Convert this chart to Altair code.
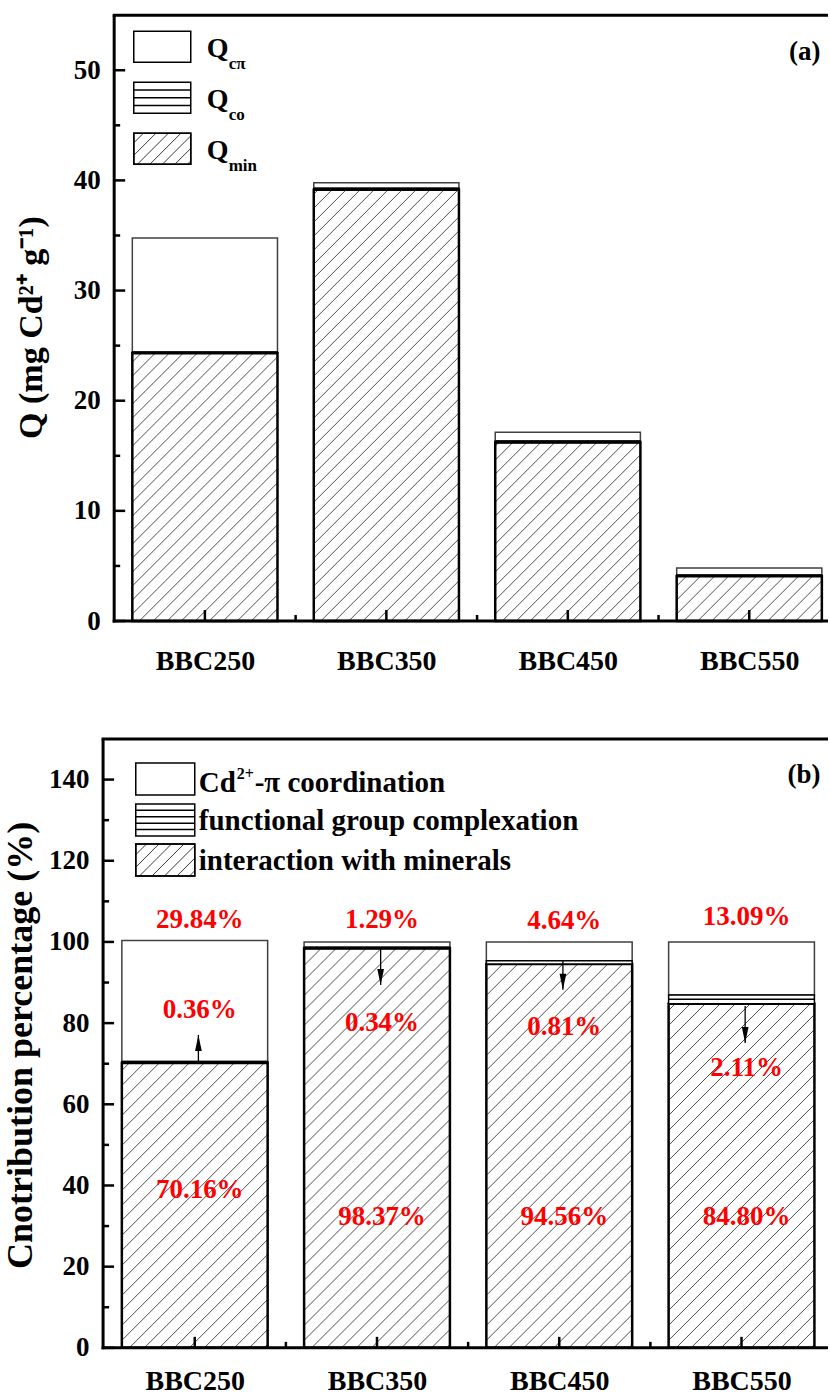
import altair as alt
import pandas as pd
import numpy as np

# ---------------- data ----------------
cats = ["BBC250", "BBC350", "BBC450", "BBC550"]
# panel (a): amounts (mg Cd2+ / g)
q_min = [24.30, 39.15, 16.20, 4.07]
q_co = [0.13, 0.14, 0.14, 0.10]
q_cpi = [10.33, 0.50, 0.80, 0.64]
# panel (b): contribution percentages
p_min = [70.16, 98.37, 94.56, 84.80]
p_co = [0.36, 0.34, 0.81, 2.11]
p_cpi = [29.84, 1.29, 4.64, 13.09]

a_yticks = [0, 10, 20, 30, 40, 50]
a_yminor = [5, 15, 25, 35, 45]
b_yticks = [0, 20, 40, 60, 80, 100, 120, 140]
b_yminor = [10, 30, 50, 70, 90, 110, 130]

# annotation placement in panel (b) (percent units)
b_top_label_y = [105.4, 105.4, 105.2, 106.2]
b_mid_label_y = [83.3, 80.0, 79.1, 69.0]
b_low_label_y = [38.9, 32.3, 32.3, 32.3]
b_arrow_from = [70.5, 98.7, 95.4, 84.2]
b_arrow_to = [77.1, 89.4, 88.2, 75.1]

# ---------------- layout / style ----------------
FONT = "Liberation Serif"
W = 714
HALF = 0.4
ONE = pd.DataFrame({"k": [0]})


def hatch(rects, S, m=1.0, phase=0.5):
    """rects in pixel coords (y upward): (L, R, B, T) -> list of segments"""
    out = []
    for (L, R, B, T) in rects:
        h = T - B
        if h <= 0.5:
            continue
        k = int(np.floor((-h / m) / S)) - 1
        while True:
            c = L + phase * S + k * S
            if c >= R:
                break
            y_lo = B + max(0.0, (L - c) * m)
            y_hi = B + min(h, (R - c) * m)
            if y_hi - y_lo > 0.3:
                out.append((c + (y_lo - B) / m, y_lo, c + (y_hi - B) / m, y_hi))
            k += 1
    return out


def txt(s, x, y, fs, align="left", color="black"):
    return alt.Chart(ONE).mark_text(
        text=s, font=FONT, fontSize=fs, fontWeight="bold", align=align,
        baseline="alphabetic", color=color
    ).encode(x=alt.value(x), y=alt.value(y))


def build_panel(mins, cos, cpis, c):
    sx = c["step"]
    H = c["H"]
    sy = H / c["ymax"]
    xmin = c["xmin"]
    xmax = xmin + W / sx
    off = c["axis_off"]
    xs = alt.Scale(domain=[xmin, xmax], nice=False, zero=False)
    ys = alt.Scale(domain=[0, c["ymax"]], nice=False, zero=False)
    idx = list(range(len(cats)))

    df = pd.DataFrame({"cat": cats, "i": idx, "mn": mins, "co": cos, "cp": cpis})
    df["x1"] = df["i"] - HALF
    df["x2"] = df["i"] + HALF
    df["y0"] = 0.0
    df["y1"] = df["mn"]
    df["y2"] = df["mn"] + df["co"]
    df["y3"] = df["y2"] + df["cp"]

    label_expr = "[" + ",".join(f"'{k}'" for k in cats) + "][datum.value]"
    xaxis = alt.Axis(values=idx, labelExpr=label_expr, title=None, domain=False,
                     ticks=False, tickSize=0, grid=False, labelFont=FONT,
                     labelFontSize=28, labelFontWeight="bold", labelColor="black",
                     labelPadding=c["xlab_pad"], labelBaseline="alphabetic",
                     labelFlush=False, labelOverlap=False)
    yaxis = alt.Axis(values=c["yticks"], title=c["ytitle"], domain=False, ticks=False,
                     tickSize=0, grid=False, offset=off, labelFont=FONT,
                     labelFontSize=27, labelFontWeight="bold", labelColor="black",
                     labelPadding=14, labelFlush=False, titleFont=FONT,
                     titleFontSize=c["title_fs"], titleFontWeight="bold",
                     titleColor="black", titleAngle=270, titleAlign="center",
                     titleBaseline="middle", titleX=c["title_x"], titleY=c["title_y"])

    X = lambda f: alt.X(f, type="quantitative", scale=xs, axis=xaxis)
    Y = lambda f: alt.Y(f, type="quantitative", scale=ys, axis=yaxis)

    layers = []
    # coordination (top) segment
    layers.append(alt.Chart(df).mark_rect(fill="white", stroke="#404040", strokeWidth=1.5).encode(
        x=X("x1"), x2=alt.X2("x2"), y=Y("y2"), y2=alt.Y2("y3")))
    # mineral segment
    layers.append(alt.Chart(df).mark_rect(fill="white", strokeWidth=0).encode(
        x=X("x1"), x2=alt.X2("x2"), y=Y("y0"), y2=alt.Y2("y1")))
    rects = [((i - HALF - xmin) * sx, (i + HALF - xmin) * sx, 0.0, m * sy)
             for i, m in zip(idx, mins)]
    segs = hatch(rects, c["hatch_S"])
    hd = pd.DataFrame(segs, columns=["a", "b", "c", "d"])
    hd["hx1"] = xmin + hd["a"] / sx
    hd["hy1"] = hd["b"] / sy
    hd["hx2"] = xmin + hd["c"] / sx
    hd["hy2"] = hd["d"] / sy
    layers.append(alt.Chart(hd).mark_rule(stroke="#222222", strokeWidth=0.8).encode(
        x=X("hx1"), y=Y("hy1"), x2=alt.X2("hx2"), y2=alt.Y2("hy2")))
    layers.append(alt.Chart(df).mark_rect(fill="white", fillOpacity=0, stroke="black",
                                          strokeWidth=2.5).encode(
        x=X("x1"), x2=alt.X2("x2"), y=Y("y0"), y2=alt.Y2("y1")))
    # complexation segment
    layers.append(alt.Chart(df).mark_rect(fill="white", stroke="black", strokeWidth=1.5).encode(
        x=X("x1"), x2=alt.X2("x2"), y=Y("y1"), y2=alt.Y2("y2")))
    mid = df[df["co"] * sy > 6].copy()
    mid["ym"] = (mid["y1"] + mid["y2"]) / 2
    if len(mid):
        layers.append(alt.Chart(mid).mark_rule(stroke="black", strokeWidth=1.5).encode(
            x=X("x1"), x2=alt.X2("x2"), y=Y("ym")))

    # frame lines
    layers.append(alt.Chart(ONE).mark_rule(stroke="black", strokeWidth=3).encode(
        x=alt.value(-off), y=alt.value(0), y2=alt.value(H + 1.5)))
    layers.append(alt.Chart(ONE).mark_rule(stroke="black", strokeWidth=3).encode(
        x=alt.value(-off - 1.5), x2=alt.value(W), y=alt.value(H)))
    layers.append(alt.Chart(ONE).mark_rule(stroke="black", strokeWidth=3).encode(
        x=alt.value(-off - 1.5), x2=alt.value(W), y=alt.value(0)))
    # inward ticks
    layers.append(alt.Chart(pd.DataFrame({"v": c["yticks"]})).mark_rule(
        stroke="black", strokeWidth=2.5).encode(
        y=Y("v"), x=alt.value(-off), x2=alt.value(-off + 11)))
    layers.append(alt.Chart(pd.DataFrame({"v": c["yminor"]})).mark_rule(
        stroke="black", strokeWidth=2.5).encode(
        y=Y("v"), x=alt.value(-off), x2=alt.value(-off + 6)))
    layers.append(alt.Chart(pd.DataFrame({"v": idx})).mark_rule(
        stroke="black", strokeWidth=2.5).encode(
        x=X("v"), y=alt.value(H), y2=alt.value(H - 11)))
    layers.append(alt.Chart(pd.DataFrame({"v": [i + 0.5 for i in idx[:-1]]})).mark_rule(
        stroke="black", strokeWidth=2.5).encode(
        x=X("v"), y=alt.value(H), y2=alt.value(H - 6)))

    # legend swatches (pixel layout converted to data units)
    lx1, lx2 = c["leg_x"]
    tops = c["leg_tops"]
    lh = c["leg_h"]
    px2x = lambda p: xmin + p / sx
    px2y = lambda p: (H - p) / sy
    sw = pd.DataFrame({"sx1": [px2x(lx1)] * 3, "sx2": [px2x(lx2)] * 3,
                       "sy1": [px2y(t) for t in tops], "sy2": [px2y(t + lh) for t in tops]})
    layers.append(alt.Chart(sw).mark_rect(fill="white", stroke="black", strokeWidth=1.5).encode(
        x=X("sx1"), x2=alt.X2("sx2"), y=Y("sy1"), y2=alt.Y2("sy2")))
    nl = c["leg_lines"]
    ly = [tops[1] + lh * (k + 1) / (nl + 1) for k in range(nl)]
    ldf = pd.DataFrame({"a": [px2x(lx1)] * nl, "b": [px2x(lx2)] * nl, "y": [px2y(v) for v in ly]})
    layers.append(alt.Chart(ldf).mark_rule(stroke="black", strokeWidth=1.5).encode(
        x=X("a"), x2=alt.X2("b"), y=Y("y")))
    lseg = hatch([(lx1, lx2, H - (tops[2] + lh), H - tops[2])], 12.5, phase=0.3)
    lsd = pd.DataFrame(lseg, columns=["a", "b", "c", "d"])
    lsd["hx1"] = xmin + lsd["a"] / sx
    lsd["hy1"] = lsd["b"] / sy
    lsd["hx2"] = xmin + lsd["c"] / sx
    lsd["hy2"] = lsd["d"] / sy
    layers.append(alt.Chart(lsd).mark_rule(stroke="#222222", strokeWidth=0.9).encode(
        x=X("hx1"), y=Y("hy1"), x2=alt.X2("hx2"), y2=alt.Y2("hy2")))
    layers.append(alt.Chart(sw.iloc[2:3]).mark_rect(fill="white", fillOpacity=0, stroke="black",
                                                   strokeWidth=1.5).encode(
        x=X("sx1"), x2=alt.X2("sx2"), y=Y("sy1"), y2=alt.Y2("sy2")))

    # panel tag
    layers.append(txt(c["tag"], W - 7.5, c["tag_y"], 27, align="right"))
    return layers, X, Y, sx, sy


# ---------------- panel (a) ----------------
cfg_a = dict(ymax=55, H=606, step=181.5, xmin=-0.5, axis_off=0.0,
             yticks=a_yticks, yminor=a_yminor, ytitle="Q (mg Cd²⁺ g⁻¹)",
             title_x=-82.4, title_y=312, title_fs=34, xlab_pad=48, hatch_S=14.0,
             leg_x=(19.6, 76.6), leg_tops=[16, 67, 118], leg_h=31, leg_lines=3,
             tag="(a)", tag_y=45)
la, Xa, Ya, sxa, sya = build_panel(q_min, q_co, q_cpi, cfg_a)
qsubs = ["cπ", "co", "min"]
for r, s in enumerate(qsubs):
    la.append(txt("Q", 92.6, 42 + 51 * r, 28))
    la.append(txt(s, 114.5, 54 + 51 * r, 17))
panel_a = alt.layer(*la).properties(width=W, height=cfg_a["H"])

# ---------------- panel (b) ----------------
cfg_b = dict(ymax=150, H=609, step=182.3, xmin=-0.4421, axis_off=11.1,
             yticks=b_yticks, yminor=b_yminor, ytitle="Cnotribution percentage (%)",
             title_x=-82.3, title_y=306, title_fs=36, xlab_pad=42, hatch_S=15.0,
             leg_x=(21.6, 80.6), leg_tops=[24, 65, 105], leg_h=32, leg_lines=4,
             tag="(b)", tag_y=44)
lb, Xb, Yb, sxb, syb = build_panel(p_min, p_co, p_cpi, cfg_b)
lb.append(txt("Cd", 84.6, 53, 29))
lb.append(txt("2+", 122.5, 40, 16))
lb.append(txt("-π coordination", 140.5, 53, 29))
lb.append(txt("functional group complexation", 84.6, 91, 29))
lb.append(txt("interaction with minerals", 84.6, 131, 29))

lab = pd.DataFrame({
    "i": list(range(4)) * 3,
    "t": [f"{v:.2f}%" for v in p_cpi] + [f"{v:.2f}%" for v in p_co] + [f"{v:.2f}%" for v in p_min],
    "ly": b_top_label_y + b_mid_label_y + b_low_label_y,
})
lb.append(alt.Chart(lab).mark_text(font=FONT, fontSize=27, fontWeight="bold", color="#ff0000",
                                   baseline="middle", align="center", dx=5).encode(
    x=Xb("i"), y=Yb("ly"), text="t:N"))

arr = pd.DataFrame({"ax": [i + 0.02 for i in range(4)], "a0": b_arrow_from, "a1": b_arrow_to})
arr["up"] = arr["a1"] > arr["a0"]
lb.append(alt.Chart(arr).mark_rule(stroke="black", strokeWidth=1.3).encode(
    x=Xb("ax"), y=Yb("a0"), y2=alt.Y2("a1")))
lb.append(alt.Chart(arr[arr["up"]]).mark_point(
    shape="M-0.42,2L0.42,2L0,0Z", size=256, filled=True, fill="black", opacity=1,
    strokeWidth=0).encode(x=Xb("ax"), y=Yb("a1")))
lb.append(alt.Chart(arr[~arr["up"]]).mark_point(
    shape="M-0.42,-2L0.42,-2L0,0Z", size=256, filled=True, fill="black", opacity=1,
    strokeWidth=0).encode(x=Xb("ax"), y=Yb("a1")))
panel_b = alt.layer(*lb).properties(width=W, height=cfg_b["H"])

chart = alt.vconcat(panel_a, panel_b, spacing=62).properties(
    padding={"left": 2.2, "top": 13, "right": 0, "bottom": 0}, background="white"
).configure_view(stroke=None)

chart.save("out.html", embed_options={"renderer": "svg", "actions": False})
